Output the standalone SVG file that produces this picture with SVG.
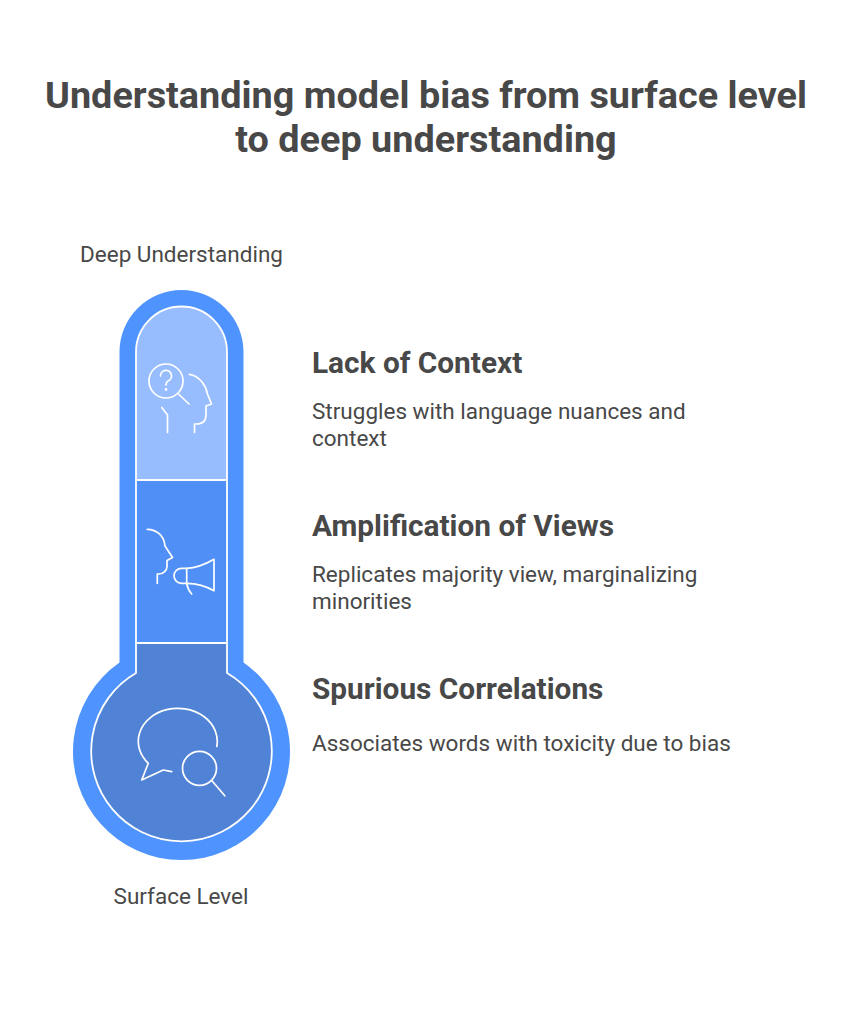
<svg xmlns="http://www.w3.org/2000/svg" width="861" height="1024" viewBox="0 0 861 1024">
<style>
.title{font-family:Roboto,"Liberation Sans",sans-serif;font-weight:700;font-size:37.8px;fill:#484848;text-anchor:middle}
.head{font-family:Roboto,"Liberation Sans",sans-serif;font-weight:700;font-size:29.8px;fill:#484848}
.body{font-family:Roboto,"Liberation Sans",sans-serif;font-size:22.5px;fill:#484848}
.lbl{font-family:Roboto,"Liberation Sans",sans-serif;font-size:22.5px;fill:#484848;text-anchor:middle}
.ic{fill:none;stroke:#ffffff;stroke-width:1.7;stroke-linecap:round;stroke-linejoin:round}
</style>
<defs>
<clipPath id="innerClip">
<path d="M136,673 V352 A45.5,45.5 0 0 1 227,352 V673 A90.3,90.3 0 1 1 136,673 Z"/>
</clipPath>
</defs>
<rect width="861" height="1024" fill="#ffffff"/>
<g id="title">
<text class="title" x="426" y="108">Understanding model bias from surface level</text>
<text class="title" x="426" y="152">to deep understanding</text>
</g>
<g id="thermometer">
<path d="M119.5,662.5 V352 A62,62 0 0 1 243.5,352 V662.5 A108.5,108.5 0 1 1 119.5,662.5 Z" fill="#4F94FE"/>
<g clip-path="url(#innerClip)">
<rect x="120" y="290" width="124" height="190" fill="#97BDFE"/>
<rect x="120" y="480" width="124" height="163" fill="#4F8FF6"/>
<rect x="60" y="643" width="240" height="220" fill="#5083D5"/>
</g>
<path d="M136,673 V352 A45.5,45.5 0 0 1 227,352 V673 A90.3,90.3 0 1 1 136,673 Z" fill="none" stroke="#ffffff" stroke-width="1.8"/>
<line x1="136" y1="480" x2="227" y2="480" stroke="#ffffff" stroke-width="1.8"/>
<line x1="136" y1="643" x2="227" y2="643" stroke="#ffffff" stroke-width="1.8"/>
</g>
<g id="node-lack-of-context">
<g class="ic">
<circle cx="166" cy="381" r="17"/>
<path d="M160.5,376 A5.5,5.5 0 1 1 168,381 C166.5,382 166,383 166,385"/>
<circle cx="166" cy="389.5" r="0.6"/>
<line x1="178.5" y1="394" x2="189" y2="404"/>
<path d="M189.3,374.3 C200,376 206,386 207.5,394 L211.5,404 L206,406 V415 C206,421 202,424 196,424 H194.5 V432.5"/>
<path d="M161.8,407.5 L167.5,415 V432.5"/>
</g>
<text class="head" x="312" y="373">Lack of Context</text>
<text class="body" x="312" y="419">Struggles with language nuances and</text>
<text class="body" x="312" y="446">context</text>
</g>
<g id="node-amplification">
<g class="ic">
<path d="M147.3,529.3 C157,529.5 164,536 165,546 L172.5,557.5 L167,560.5 V566.5 C167,571 163,574 158.5,574 H157.3 V583.3"/>
<path d="M186.7,568.3 C197,568 206,564 214,559.3 V590.7 C206,586 197,583.5 186.7,583.3 H181.5 A7.5,7.5 0 0 1 181.5,568.3 Z"/>
<path d="M186.7,568.3 V583.3 C187.5,588 189.5,591.5 191.7,594"/>
</g>
<text class="head" x="312" y="536">Amplification of Views</text>
<text class="body" x="312" y="582">Replicates majority view, marginalizing</text>
<text class="body" x="312" y="609">minorities</text>
</g>
<g id="node-spurious">
<g class="ic">
<path d="M216.8,746.5 A39.5,33 0 1 0 148.3,763.3 L141.7,780 L163.3,770 L171.7,771.7"/>
<circle cx="199.5" cy="768.3" r="17"/>
<line x1="211.7" y1="780.5" x2="224.8" y2="795.8"/>
</g>
<text class="head" x="312" y="699">Spurious Correlations</text>
<text class="body" x="312" y="751">Associates words with toxicity due to bias</text>
</g>
<g id="labels">
<text class="lbl" x="181.5" y="262">Deep Understanding</text>
<text class="lbl" x="181" y="904">Surface Level</text>
</g>
<g id="connectors"></g>
</svg>
